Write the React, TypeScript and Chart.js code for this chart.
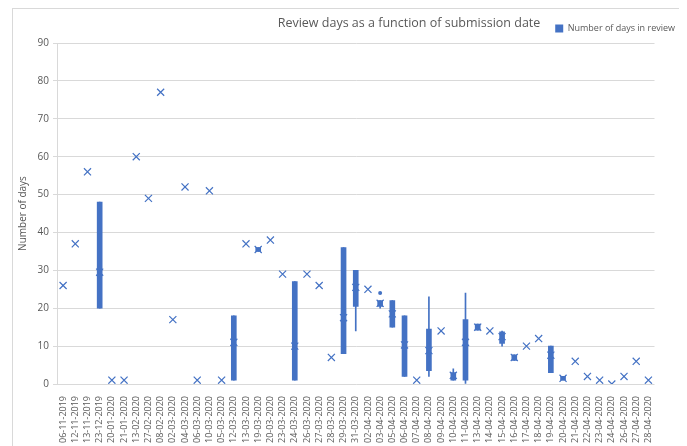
import React, { useEffect, useRef } from "react";
import { Chart, registerables } from "chart.js";

Chart.register(...registerables);

const categories = [
  "06-11-2019", "12-11-2019", "13-11-2019", "23-12-2019", "20-01-2020", "21-01-2020",
  "13-02-2020", "27-02-2020", "08-02-2020", "02-03-2020", "04-03-2020", "06-03-2020",
  "10-03-2020", "05-03-2020", "12-03-2020", "13-03-2020", "19-03-2020", "20-03-2020",
  "23-03-2020", "24-03-2020", "26-03-2020", "27-03-2020", "28-03-2020", "29-03-2020",
  "31-03-2020", "02-04-2020", "03-04-2020", "05-04-2020", "06-04-2020", "07-04-2020",
  "08-04-2020", "09-04-2020", "10-04-2020", "11-04-2020", "13-04-2020", "14-04-2020",
  "15-04-2020", "16-04-2020", "17-04-2020", "18-04-2020", "19-04-2020", "20-04-2020",
  "21-04-2020", "22-04-2020", "23-04-2020", "24-04-2020", "26-04-2020", "27-04-2020",
  "28-04-2020",
];

// mean (× marker) per submission date
const meanDays = [
  26, 37, 56, 29.5, 1, 1, 60, 49, 77, 17, 52, 1, 51, 1, 11, 37, 35.5, 38, 29, 10, 29, 26, 7,
  17.5, 25.5, 25, 21.3, 18.5, 10.3, 1, 8.8, 14, 2.3, 11, 15, 14, 12.5, 7, 10, 12, 7.6, 1.5, 6,
  2, 1, 0, 2, 6, 1,
];

// first and third quartile (box); null where all values are equal
const q1Days = [
  null, null, null, 20, null, null, null, null, null, null, null, null, null, null, 1, null, 35,
  null, null, 1, null, null, null, 8, 20.5, null, 20.5, 15, 2, null, 3.5, null, 1, 1, 14.2, null,
  10.7, 6.2, null, null, 3, 1, null, null, null, null, null, null, null,
];
const q3Days = [
  null, null, null, 48, null, null, null, null, null, null, null, null, null, null, 18, null, 36,
  null, null, 27, null, null, null, 36, 30, null, 22, 22, 18, null, 14.5, null, 3, 17, 15.8, null,
  13.8, 7.7, null, null, 10, 2, null, null, null, null, null, null, null,
];

// whisker minimum and maximum
const minDays = [
  null, null, null, 20, null, null, null, null, null, null, null, null, null, null, 1, null, 35,
  null, null, 1, null, null, null, 8, 14, null, 20, 15, 2, null, 2, null, 1, 0, 14.2, null,
  10, 6.2, null, null, 3, 1, null, null, null, null, null, null, null,
];
const maxDays = [
  null, null, null, 48, null, null, null, null, null, null, null, null, null, null, 18, null, 36,
  null, null, 27, null, null, null, 36, 30, null, 22, 22, 18, null, 23, null, 4, 24, 15.8, null,
  14, 7.7, null, null, 10, 2, null, null, null, null, null, null, null,
];

// outlier points
const outlierDays = categories.map((c) => (c === "03-04-2020" ? 24 : null));

const BLUE = "#4472C4";
const GREY_TEXT = "#595959";
const GRID = "#D9D9D9";
const FONT = "'Open Sans', 'Liberation Sans', sans-serif";

const titlePlugin = {
  id: "sideTitle",
  afterDraw(chart: any) {
    const ctx = chart.ctx;
    ctx.save();
    ctx.font = `12.5px ${FONT}`;
    ctx.fillStyle = GREY_TEXT;
    ctx.textAlign = "center";
    ctx.textBaseline = "middle";
    ctx.fillText("Review days as a function of submission date", 396, 14);
    ctx.restore();
  },
};

export default function App() {
  const ref = useRef<HTMLCanvasElement | null>(null);

  useEffect(() => {
    if (!ref.current) return;
    const pair = (a: (number | null)[], b: (number | null)[]) =>
      a.map((v, i) => (v == null || b[i] == null ? null : [v, b[i]]));

    const chart = new Chart(ref.current, {
      type: "bar",
      data: {
        labels: categories,
        datasets: [
          {
            type: "bar",
            label: "Number of days in review",
            data: pair(q1Days, q3Days) as any,
            backgroundColor: BLUE,
            borderColor: BLUE,
            borderWidth: 0,
            barThickness: 5,
            grouped: false,
            order: 2,
          },
          {
            type: "bar",
            label: "whisker",
            data: pair(minDays, maxDays) as any,
            backgroundColor: BLUE,
            borderWidth: 0,
            barThickness: 1,
            grouped: false,
            order: 3,
          },
          {
            type: "line",
            label: "mean",
            data: meanDays,
            showLine: false,
            pointStyle: "crossRot",
            pointRadius: 5,
            pointBorderWidth: 1.2,
            borderColor: BLUE,
            backgroundColor: BLUE,
            order: 0,
          },
          {
            type: "line",
            label: "outlier",
            data: outlierDays,
            showLine: false,
            pointStyle: "circle",
            pointRadius: 2,
            pointBorderWidth: 0,
            borderColor: BLUE,
            backgroundColor: BLUE,
            order: 1,
          },
        ],
      },
      options: {
        animation: false,
        responsive: true,
        maintainAspectRatio: false,
        layout: { padding: { top: 5, right: 6, left: 0, bottom: 0 } },
        plugins: {
          legend: {
            position: "top",
            align: "end",
            labels: {
              filter: (item: any) => item.datasetIndex === 0,
              boxWidth: 8,
              boxHeight: 8,
              color: GREY_TEXT,
              font: { family: FONT, size: 9 },
              padding: 10,
            },
          },
          tooltip: { enabled: false },
        },
        scales: {
          x: {
            type: "category",
            offset: true,
            grid: { display: false },
            border: { display: false },
            ticks: {
              autoSkip: false,
              minRotation: 90,
              maxRotation: 90,
              color: GREY_TEXT,
              font: { family: FONT, size: 9 },
              padding: 4,
            },
            afterFit: (s: any) => {
              s.height = 63;
            },
          },
          y: {
            min: 0,
            max: 90,
            ticks: {
              stepSize: 10,
              color: GREY_TEXT,
              font: { family: FONT, size: 10 },
              padding: 4,
            },
            grid: { color: GRID, tickLength: 4, drawTicks: true },
            border: { display: true, color: GRID },
            title: {
              display: true,
              text: "Number of days",
              color: GREY_TEXT,
              font: { family: FONT, size: 10 },
            },
            afterFit: (s: any) => {
              s.width = 44;
            },
          },
          yRight: {
            position: "right",
            display: true,
            grid: { display: false },
            border: { display: false },
            ticks: { display: false },
            afterFit: (s: any) => {
              s.width = 30.5;
            },
          },
        },
      } as any,
      plugins: [titlePlugin],
    });
    return () => chart.destroy();
  }, []);

  return (
    <div
      style={{
        marginLeft: 4,
        width: 680,
        height: 440,
        border: "1px solid #D9D9D9",
        boxSizing: "border-box",
        position: "relative",
        background: "#fff",
      }}
    >
      <canvas ref={ref} />
    </div>
  );
}
